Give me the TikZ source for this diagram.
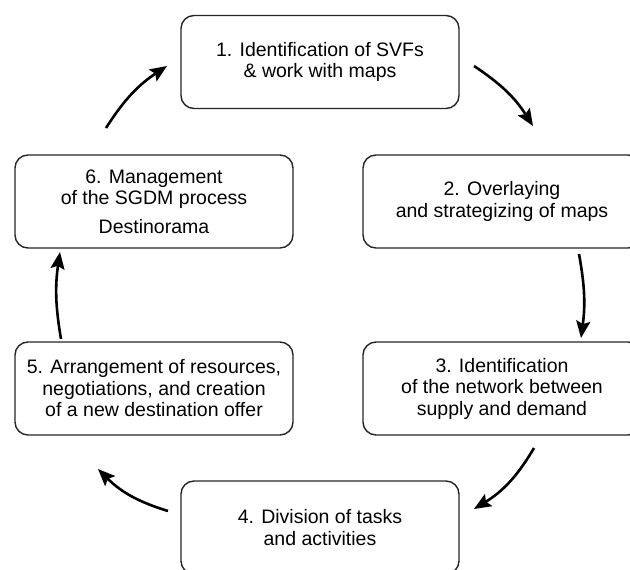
\documentclass[tikz,border=0pt]{standalone}
\usepackage{fontspec}
\setmainfont{Liberation Sans}
\usetikzlibrary{arrows.meta}
\begin{document}
\begin{tikzpicture}[x=1pt,y=-1pt,
  stepbox/.style={draw=black!85, line width=1.4pt, rounded corners=13pt,
    minimum width=278pt, minimum height=93pt, align=center, inner sep=0pt,
    font=\fontsize{19.5}{21.5}\selectfont},
  flow/.style={line width=2.6pt, -{Stealth[length=17pt,width=14pt,inset=3pt]}}]
\useasboundingbox (0,0) rectangle (630,570);
\clip (0,0) rectangle (630,570);
\fill[white] (0,0) rectangle (630,570);

\node[stepbox] (b1) at (320,62) {1. Identification of SVFs\\\& work with maps};
\node[stepbox] (b2) at (502,201.5) {2. Overlaying\\and strategizing of maps};
\node[stepbox] (b3) at (502,388.5) {3. Identification\\of the network between\\supply and demand};
\node[stepbox] (b4) at (320,527.5) {4. Division of tasks\\and activities};
\node[stepbox] (b5) at (154,388.5) {5. Arrangement of resources,\\negotiations, and creation\\of a new destination offer};
\node[stepbox] (b6) at (154,201.5) {6. Management\\of the SGDM process\\[7pt]Destinorama};

\coordinate (a1s) at (474,66);
\coordinate (a1e) at (533,126);
\coordinate (a2s) at (579,254);
\coordinate (a2e) at (581,338);
\coordinate (a3s) at (534,448);
\coordinate (a3e) at (474,509);
\coordinate (a4s) at (168,511);
\coordinate (a4e) at (98,469);
\coordinate (a5s) at (61,339);
\coordinate (a5e) at (60,252);
\coordinate (a6s) at (106,128);
\coordinate (a6e) at (167,66);

\draw[flow] (a1s) to[bend left=12] (a1e);
\draw[flow] (a2s) to[bend left=9] (a2e);
\draw[flow] (a3s) to[bend left=14] (a3e);
\draw[flow] (a4s) to[bend left=14] (a4e);
\draw[flow] (a5s) to[bend left=9] (a5e);
\draw[flow] (a6s) to[bend left=12] (a6e);
\end{tikzpicture}
\end{document}
